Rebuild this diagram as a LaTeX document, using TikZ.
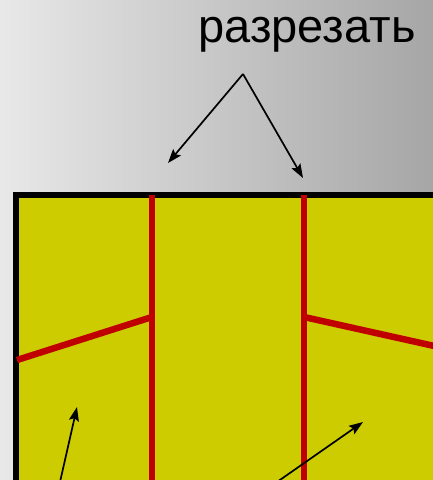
\documentclass[tikz,border=0pt]{standalone}
\usepackage{fontspec}
\setmainfont{Liberation Sans}
\usetikzlibrary{arrows.meta}
\definecolor{bgleft}{RGB}{232,232,232}
\definecolor{bgright}{RGB}{166,166,166}
\definecolor{sheet}{RGB}{204,204,0}
\definecolor{cutred}{RGB}{192,0,0}
\tikzset{
    cutline/.style={draw=cutred, line width=6.5pt},
    pointer/.style={-{Stealth[length=14pt, width=10pt, inset=2.5pt]}, line width=1.7pt},
    caption/.style={font=\fontsize{47}{50}\selectfont, inner sep=0pt}
}

\begin{document}
\begin{tikzpicture}[x=1pt, y=-1pt]
            % background
            \shade[left color=bgleft, right color=bgright] (0,0) rectangle (433,480);
            \useasboundingbox (0,0) rectangle (433,480);

            % sheet
            \fill[sheet] (16,195) rectangle (450,482);
            \draw[line width=6.5pt] (16,482) -- (16,195) -- (450,195);
            \draw[line width=6pt] (16,482.5) -- (450,482.5);

            % cuts
            \coordinate (c1) at (152,195); \coordinate (c1b) at (152,490);
            \coordinate (c2) at (304,195); \coordinate (c2b) at (304,490);
            \coordinate (l1) at (17,360);  \coordinate (l2) at (152,317);
            \coordinate (r1) at (304,317); \coordinate (r2) at (450,349.5);
            \draw[cutline] (c1) -- (c1b);
            \draw[cutline] (c2) -- (c2b);
            \draw[cutline] (l1) -- (l2);
            \draw[cutline] (r1) -- (r2);

            % label and arrows
            \node[caption, anchor=base] (cut) at (307,42) {разрезать};
            \coordinate (apex) at (243,74);
            \coordinate (t1) at (168,163); \coordinate (t2) at (303,178);
            \draw[pointer] (apex) -- (t1);
            \draw[pointer] (apex) -- (t2);

            \coordinate (b1) at (60,482);  \coordinate (p1) at (77,407);
            \coordinate (b2) at (277,482); \coordinate (p2) at (363,422);
            \draw[pointer] (b1) -- (p1);
            \draw[pointer] (b2) -- (p2);
\end{tikzpicture}
\end{document}
